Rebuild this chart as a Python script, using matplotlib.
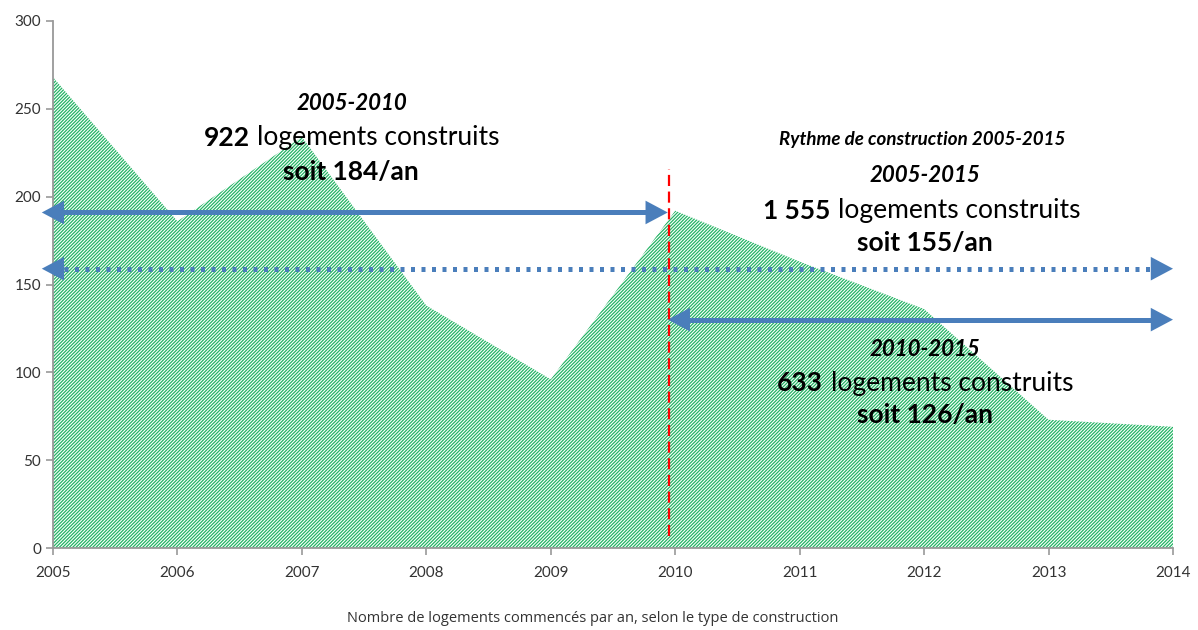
import matplotlib.pyplot as plt
from matplotlib.patches import FancyArrowPatch

plt.rcParams['font.family'] = ['Lato', 'DejaVu Sans']
plt.rcParams['hatch.linewidth'] = 0.9

# Logements commencés par an
years = [2005, 2006, 2007, 2008, 2009, 2010, 2011, 2012, 2013, 2014]
logements = [268, 186, 234, 138, 96, 192, 163, 136, 73, 69]

# Rythmes moyens (logements / an) pour les flèches
rythme_2005_2010 = 191
rythme_2005_2015 = 159
rythme_2010_2015 = 130

green = '#22b463'
blue = '#4a7ebb'

fig = plt.figure(figsize=(11.98, 6.30), dpi=100)
ax = fig.add_axes([53 / 1198, 1 - 548 / 630, 1120 / 1198, 527 / 630])

ax.fill_between(years, logements, 0, facecolor='white', edgecolor=green,
                hatch='//////////', linewidth=0)

ax.set_xlim(2005, 2014)
ax.set_ylim(0, 300)
ax.set_xticks(years)
ax.set_yticks(range(0, 301, 50))
ax.tick_params(labelsize=11, colors='#333333', length=5, width=1.2)
for s in ['top', 'right']:
    ax.spines[s].set_visible(False)
for s in ['left', 'bottom']:
    ax.spines[s].set_color('#999999')
    ax.spines[s].set_linewidth(1.3)
ax.tick_params(color='#999999')
ax.xaxis.set_tick_params(pad=8)

HEAD = 'head_length=1.6,head_width=0.85'
head_dx = 0.18  # longueur de la pointe en années (~22 px)


def pointe(x_from, x_to, y):
    ax.add_patch(FancyArrowPatch((x_from, y), (x_to, y), arrowstyle='-|>,' + HEAD,
                                 mutation_scale=10, color=blue, linewidth=0,
                                 clip_on=False, shrinkA=0, shrinkB=0, zorder=5))


def fleche(x0, x1, y, dotted=False):
    if dotted:
        ax.plot([x0 + head_dx, x1 - head_dx], [y, y], color=blue, linewidth=3.6,
                linestyle=(0, (0.8, 1.3)), solid_capstyle='butt',
                dash_capstyle='butt', clip_on=False, zorder=5)
    else:
        ax.plot([x0 + head_dx * 0.9, x1 - head_dx * 0.9], [y, y], color=blue,
                linewidth=3.6, solid_capstyle='butt', clip_on=False, zorder=5)
    pointe(x0 + head_dx, x0, y)
    pointe(x1 - head_dx, x1, y)


fleche(2004.91, 2009.94, rythme_2005_2010)
fleche(2004.91, 2014.0, rythme_2005_2015, dotted=True)
fleche(2009.94, 2014.0, rythme_2010_2015)

# séparation 2010
ax.plot([2009.95, 2009.95], [7, 216], color='red', linestyle=(0, (5, 2.5)),
        linewidth=1.6, zorder=6)


def ftext(px, py, s, **kw):
    fig.text(px / 1198, 1 - py / 630, s, va='center', **kw)


# 2005-2010
ftext(352, 103, '2005-2010', ha='center', fontsize=16, fontweight='bold', fontstyle='italic')
ftext(250, 138, '922', ha='right', fontsize=19, fontweight='bold')
ftext(257, 138, 'logements construits', ha='left', fontsize=19)
ftext(351, 172, 'soit 184/an', ha='center', fontsize=19, fontweight='bold')

# 2005-2015
ftext(922, 139, 'Rythme de construction 2005-2015', ha='center', fontsize=13.5,
      fontweight='bold', fontstyle='italic')
ftext(925, 176, '2005-2015', ha='center', fontsize=16, fontweight='bold', fontstyle='italic')
ftext(830, 211, '1 555', ha='right', fontsize=19, fontweight='bold')
ftext(838, 211, 'logements construits', ha='left', fontsize=19)
ftext(925, 243, 'soit 155/an', ha='center', fontsize=19, fontweight='bold')

# 2010-2015
ftext(925, 350, '2010-2015', ha='center', fontsize=16, fontweight='bold', fontstyle='italic')
ftext(823, 383, '633', ha='right', fontsize=19, fontweight='bold')
ftext(831, 383, 'logements construits', ha='left', fontsize=19)
ftext(925, 415, 'soit 126/an', ha='center', fontsize=19, fontweight='bold')

ftext(593, 618, 'Nombre de logements commencés par an, selon le type de construction',
      ha='center', fontsize=10.5, color='#333333', family=['Open Sans', 'DejaVu Sans'])

fig.savefig('out.png', dpi=100, facecolor='white')
